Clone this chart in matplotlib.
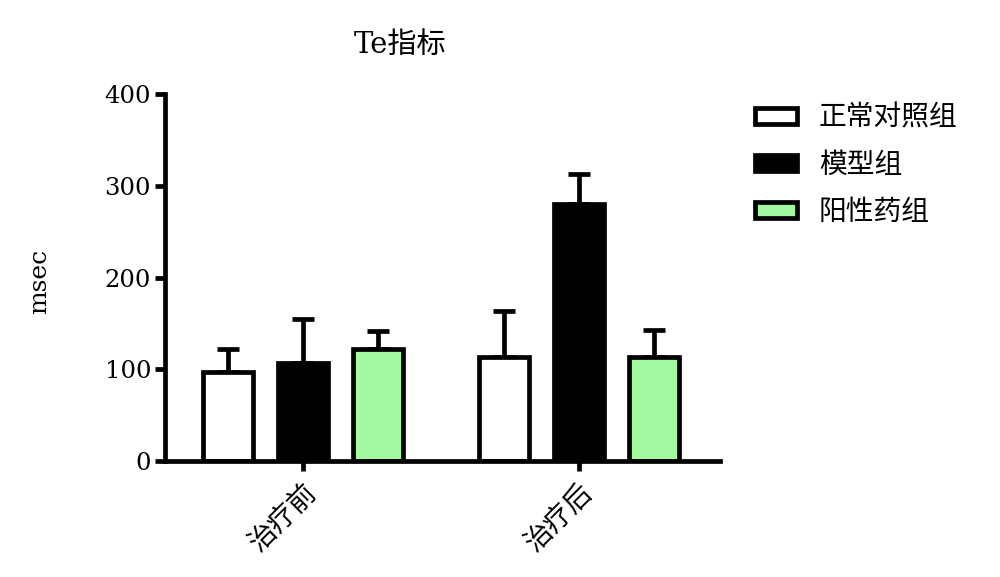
import matplotlib
matplotlib.use("Agg")
import matplotlib.pyplot as plt
import numpy as np

plt.rcParams['font.family'] = ['DejaVu Serif', 'Noto Sans CJK SC']

groups = ['治疗前', '治疗后']
series = ['正常对照组', '模型组', '阳性药组']
means = {
    '正常对照组': [97, 113],
    '模型组': [107, 280],
    '阳性药组': [122, 113],
}
errs = {
    '正常对照组': [25, 51],
    '模型组': [48, 33],
    '阳性药组': [20, 30],
}
colors = ['#ffffff', '#000000', '#a3f8a0']
yticks = [0, 100, 200, 300, 400]

fig = plt.figure(figsize=(10, 5.77), dpi=100)
ax = fig.add_axes([0.165, 0.201, 0.555, 0.636])

x = np.arange(len(groups))
offsets = [-0.272, 0.0, 0.272]
width = 0.181
lw = 3.4
for s, off, c in zip(series, offsets, colors):
    m = np.array(means[s])
    e = np.array(errs[s])
    ax.errorbar(x + off, m, yerr=[np.zeros_like(e), e], fmt='none',
                ecolor='black', elinewidth=lw, capsize=8, capthick=lw, zorder=1)
    ax.bar(x + off, m, width=width, color=c, edgecolor='black', linewidth=lw,
           label=s, zorder=2)

ax.set_xlim(-0.5, 1.51)
ax.set_ylim(0, 400)
ax.set_yticks(yticks)
ax.set_yticklabels([str(t) for t in yticks], fontsize=17.5)
ax.set_xticks(x)
ax.set_xticklabels(groups, rotation=45, ha='right', rotation_mode='anchor',
                   fontsize=20)
for sp in ['top', 'right']:
    ax.spines[sp].set_visible(False)
for sp in ['left', 'bottom']:
    ax.spines[sp].set_linewidth(lw)
ax.tick_params(axis='both', width=lw, length=7, direction='out')
ax.tick_params(axis='y', pad=3)
ax.tick_params(axis='x', pad=6)

ax.set_ylabel('msec', fontsize=18)
ax.yaxis.set_label_coords(-0.206, 0.49)

fig.text(0.40, 0.922, 'Te指标', fontsize=21, ha='center', va='center')

leg = fig.legend(loc='upper left', bbox_to_anchor=(0.730, 0.862), frameon=False,
                 fontsize=20, handlelength=1.5, handleheight=0.5,
                 handletextpad=0.8, labelspacing=0.72)

fig.savefig('out.png', dpi=100)
